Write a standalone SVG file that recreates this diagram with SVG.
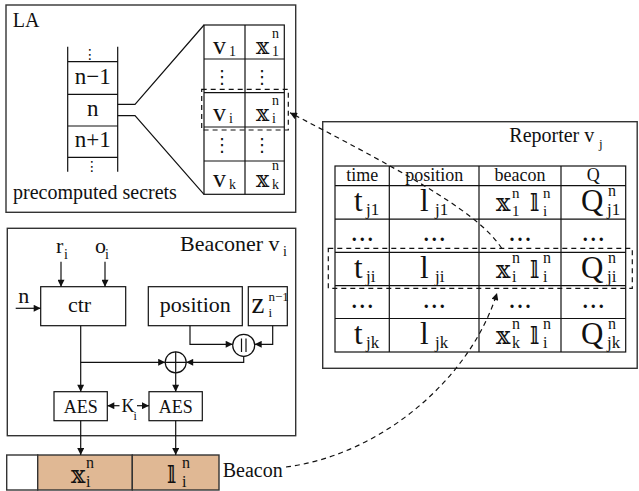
<svg xmlns="http://www.w3.org/2000/svg" width="639" height="491" viewBox="0 0 639 491">
<defs>
<style>
.bx{fill:none;stroke:#333;stroke-width:1.4}
.ln{fill:none;stroke:#111;stroke-width:1.2}
.dl{fill:none;stroke:#111;stroke-width:1.2;stroke-dasharray:5 4}
.t{font-family:"Liberation Serif","DejaVu Serif",serif;fill:#111}
.m{font-family:"DejaVu Serif","DejaVu Sans",serif;fill:#111}
.vd{font-family:"DejaVu Sans",sans-serif;fill:#111}
.mid{text-anchor:middle}
.dots{font-family:"Liberation Serif","DejaVu Serif",serif;fill:#111;font-size:20px;font-weight:bold;letter-spacing:3px;text-anchor:middle}
</style>
<marker id="ah" viewBox="0 0 10 10" refX="10" refY="5" markerWidth="9" markerHeight="7" markerUnits="userSpaceOnUse" orient="auto"><path d="M0,0 L10,5 L0,10 z" fill="#111"/></marker>
</defs>
<rect width="639" height="491" fill="#fff"/>

<g id="la">
<rect class="bx" x="6" y="5" width="289.7" height="207.3"/>
<text class="t" x="12.7" y="26.7" font-size="20">LA</text>
<g id="stack">
<path class="ln" d="M67.7,46.7V171.7M117.7,46.7V171.7M67.7,61.7H117.7M67.7,94.3H117.7M67.7,126H117.7M67.7,157.3H117.7"/>
<text class="vd mid" x="90" y="59" font-size="14">⋮</text>
<text class="t mid" x="92.7" y="84" font-size="23">n−1</text>
<text class="t mid" x="92.7" y="115.5" font-size="23">n</text>
<text class="t mid" x="92.7" y="147" font-size="23">n+1</text>
<text class="vd mid" x="92" y="171" font-size="14">⋮</text>
<text class="t mid" x="95" y="199" font-size="20">precomputed secrets</text>
</g>
<g id="la-table">
<rect class="ln" x="204" y="25" width="80.3" height="169.3"/>
<path class="ln" d="M245,25V194.3M204,59H284.3M204,92.7H284.3M204,127H284.3M204,161H284.3"/>
<text class="t" x="213" y="54" font-size="26">v</text><text class="t" x="229" y="56" font-size="14">1</text>
<text class="m" x="256" y="54" font-size="22">𝕩</text><text class="t" x="272" y="38" font-size="14">n</text><text class="t" x="272" y="56" font-size="14">1</text>
<text class="vd mid" x="222" y="82.5" font-size="18">⋮</text><text class="vd mid" x="262" y="82.5" font-size="18">⋮</text>
<text class="t" x="213" y="121" font-size="26">v</text><text class="t" x="229" y="123" font-size="14">i</text>
<text class="m" x="256" y="121" font-size="22">𝕩</text><text class="t" x="272" y="105" font-size="14">n</text><text class="t" x="272" y="123" font-size="14">i</text>
<text class="vd mid" x="222" y="150.5" font-size="18">⋮</text><text class="vd mid" x="262" y="150.5" font-size="18">⋮</text>
<text class="t" x="213" y="187" font-size="26">v</text><text class="t" x="229" y="189" font-size="14">k</text>
<text class="m" x="256" y="187" font-size="22">𝕩</text><text class="t" x="272" y="170" font-size="14">n</text><text class="t" x="272" y="189" font-size="14">k</text>
<rect class="dl" x="201.7" y="89.3" width="86.6" height="40.7"/>
</g>
<path class="ln" d="M117.7,104.3H135L204,25M117.7,115.7H135L204,194.3"/>
</g>

<g id="reporter">
<rect class="bx" x="322.7" y="121.7" width="314.5" height="246.6"/>
<text class="t" x="509.3" y="141.7" font-size="20">Reporter v</text><text class="t" x="599" y="148" font-size="13">j</text>
<rect class="ln" x="335" y="166" width="290.7" height="186"/>
<path class="ln" d="M389.3,166V352M479,166V352M561,166V352M335,185.7H625.7M335,219.2H625.7M335,252.3H625.7M335,285.7H625.7M335,318.5H625.7"/>
<text class="t mid" x="362.2" y="180.5" font-size="18">time</text>
<text class="t mid" x="434.2" y="180.5" font-size="18">position</text>
<text class="t mid" x="520" y="180.5" font-size="18">beacon</text>
<text class="t mid" x="593.3" y="180.5" font-size="18">Q</text>
<!-- row 1 -->
<text class="t" x="354" y="211" font-size="31">t</text><text class="t" x="366" y="215" font-size="17">j1</text>
<text class="t" x="420" y="211" font-size="31">l</text><text class="t" x="435" y="215" font-size="17">j1</text>
<text class="m" x="496" y="211" font-size="24">𝕩</text><text class="t" x="512" y="198" font-size="15">n</text><text class="t" x="512" y="216" font-size="15">1</text>
<text class="m" x="530" y="211" font-size="24">𝕝</text><text class="t" x="543" y="198" font-size="15">n</text><text class="t" x="543" y="216" font-size="15">i</text>
<text class="t" x="581" y="211" font-size="31">Q</text><text class="t" x="608" y="196" font-size="16">n</text><text class="t" x="607" y="215" font-size="17">j1</text>
<!-- row 2 -->
<text class="dots" x="363.7" y="241">...</text>
<text class="dots" x="435.7" y="241">...</text>
<text class="dots" x="521.5" y="241">...</text>
<text class="dots" x="594.8" y="241">...</text>
<!-- row 3 -->
<text class="t" x="354" y="277.5" font-size="31">t</text><text class="t" x="366" y="281.5" font-size="17">ji</text>
<text class="t" x="420" y="277.5" font-size="31">l</text><text class="t" x="435" y="281.5" font-size="17">ji</text>
<text class="m" x="496" y="277.5" font-size="24">𝕩</text><text class="t" x="512" y="262.5" font-size="16">n</text><text class="t" x="512" y="281.5" font-size="16">i</text>
<text class="m" x="530" y="277.5" font-size="24">𝕝</text><text class="t" x="543" y="262.5" font-size="16">n</text><text class="t" x="543" y="281.5" font-size="16">i</text>
<text class="t" x="581" y="277.5" font-size="31">Q</text><text class="t" x="608" y="262.5" font-size="16">n</text><text class="t" x="607" y="281.5" font-size="17">ji</text>
<!-- row 4 -->
<text class="dots" x="363.7" y="307.5">...</text>
<text class="dots" x="435.7" y="307.5">...</text>
<text class="dots" x="521.5" y="307.5">...</text>
<text class="dots" x="594.8" y="307.5">...</text>
<!-- row 5 -->
<text class="t" x="354" y="344" font-size="31">t</text><text class="t" x="366" y="348" font-size="17">jk</text>
<text class="t" x="420" y="344" font-size="31">l</text><text class="t" x="435" y="348" font-size="17">jk</text>
<text class="m" x="496" y="344" font-size="24">𝕩</text><text class="t" x="512" y="329" font-size="16">n</text><text class="t" x="512" y="348" font-size="16">k</text>
<text class="m" x="530" y="344" font-size="24">𝕝</text><text class="t" x="543" y="329" font-size="16">n</text><text class="t" x="543" y="348" font-size="16">i</text>
<text class="t" x="581" y="344" font-size="31">Q</text><text class="t" x="608" y="329" font-size="16">n</text><text class="t" x="607" y="348" font-size="17">jk</text>
<rect class="dl" x="328.3" y="248.3" width="304" height="40"/>
</g>

<g id="beaconer">
<rect class="bx" x="7.3" y="228.3" width="288.4" height="207.4"/>
<text class="t" x="180" y="250.7" font-size="22">Beaconer v</text><text class="t" x="283" y="256" font-size="14">i</text>
<text class="t" x="56" y="253" font-size="22">r</text><text class="t" x="64" y="259" font-size="14">i</text>
<text class="t" x="95" y="253" font-size="22">o</text><text class="t" x="105" y="259" font-size="14">i</text>
<text class="t" x="18.3" y="303.3" font-size="22">n</text>
<g id="ctr"><rect class="ln" x="40.7" y="286.7" width="85" height="39"/><text class="t mid" x="79.5" y="311.7" font-size="22">ctr</text></g>
<g id="position"><rect class="ln" x="148.3" y="286.7" width="94" height="39"/><text class="t mid" x="195.3" y="311.7" font-size="22">position</text></g>
<g id="zbox"><rect class="ln" x="248.3" y="286.7" width="39" height="39"/><text class="t" x="251.5" y="312.7" font-size="29">z</text><text class="t" x="268.5" y="301" font-size="13">n−1</text><text class="t" x="268.5" y="316.5" font-size="13">i</text></g>
<g id="concat"><circle class="ln" cx="243.7" cy="345.3" r="11"/><path class="ln" d="M241.5,338.5V352M246,338.5V352"/></g>
<g id="xor"><circle class="ln" cx="175.7" cy="362.3" r="10.5"/><path class="ln" d="M175.7,351.8V372.8M165.2,362.3H186.2"/></g>
<g id="aes1"><rect class="ln" x="54" y="391.7" width="53.3" height="29"/><text class="t mid" x="80.7" y="412.7" font-size="18">AES</text></g>
<g id="aes2"><rect class="ln" x="149" y="391.7" width="53.3" height="29"/><text class="t mid" x="175.7" y="412.7" font-size="18">AES</text></g>
<text class="t" x="121.5" y="411.7" font-size="18">K</text><text class="t" x="133.5" y="420" font-size="12">i</text>
</g>

<g id="beacon">
<rect x="6.7" y="455" width="31" height="35" fill="#fff" stroke="#333" stroke-width="1.4"/>
<rect x="37.7" y="455" width="94.6" height="35" fill="#E0B894" stroke="#333" stroke-width="1.4"/>
<rect x="132.3" y="455" width="86.7" height="35" fill="#E0B894" stroke="#333" stroke-width="1.4"/>
<text class="m" x="71" y="483.3" font-size="24">𝕩</text><text class="t" x="86" y="468" font-size="16">n</text><text class="t" x="86" y="486.5" font-size="16">i</text>
<text class="m" x="167" y="483.3" font-size="24">𝕝</text><text class="t" x="182" y="468" font-size="16">n</text><text class="t" x="182" y="486.5" font-size="16">i</text>
<text class="t" x="222.7" y="476.7" font-size="20">Beacon</text>
</g>

<g id="connectors">
<path class="ln" d="M61,261.7V286.7" marker-end="url(#ah)"/>
<path class="ln" d="M105,261.7V286.7" marker-end="url(#ah)"/>
<path class="ln" d="M15.7,308.3H40.7" marker-end="url(#ah)"/>
<path class="ln" d="M80.7,325.7V391.7" marker-end="url(#ah)"/>
<path class="ln" d="M80.7,362.3H165.2" marker-end="url(#ah)"/>
<path class="ln" d="M190,325.7V344.3H232.7" marker-end="url(#ah)"/>
<path class="ln" d="M272.7,325.7V344.3H254.7" marker-end="url(#ah)"/>
<path class="ln" d="M243.7,356.3V362.3H186.2" marker-end="url(#ah)"/>
<path class="ln" d="M175.7,372.8V391.7" marker-end="url(#ah)"/>
<path class="ln" d="M119.5,405.7H107.3" marker-end="url(#ah)"/>
<path class="ln" d="M137,405.7H149" marker-end="url(#ah)"/>
<path class="ln" d="M80.7,420.7V455" marker-end="url(#ah)"/>
<path class="ln" d="M175.7,420.7V455" marker-end="url(#ah)"/>
<path class="dl" d="M286,467C380,455 470,380 497,293" marker-end="url(#ah)"/>
<path class="dl" d="M501.7,248.3C480,215 420,180 290,112.7" marker-end="url(#ah)"/>
</g>
</svg>
